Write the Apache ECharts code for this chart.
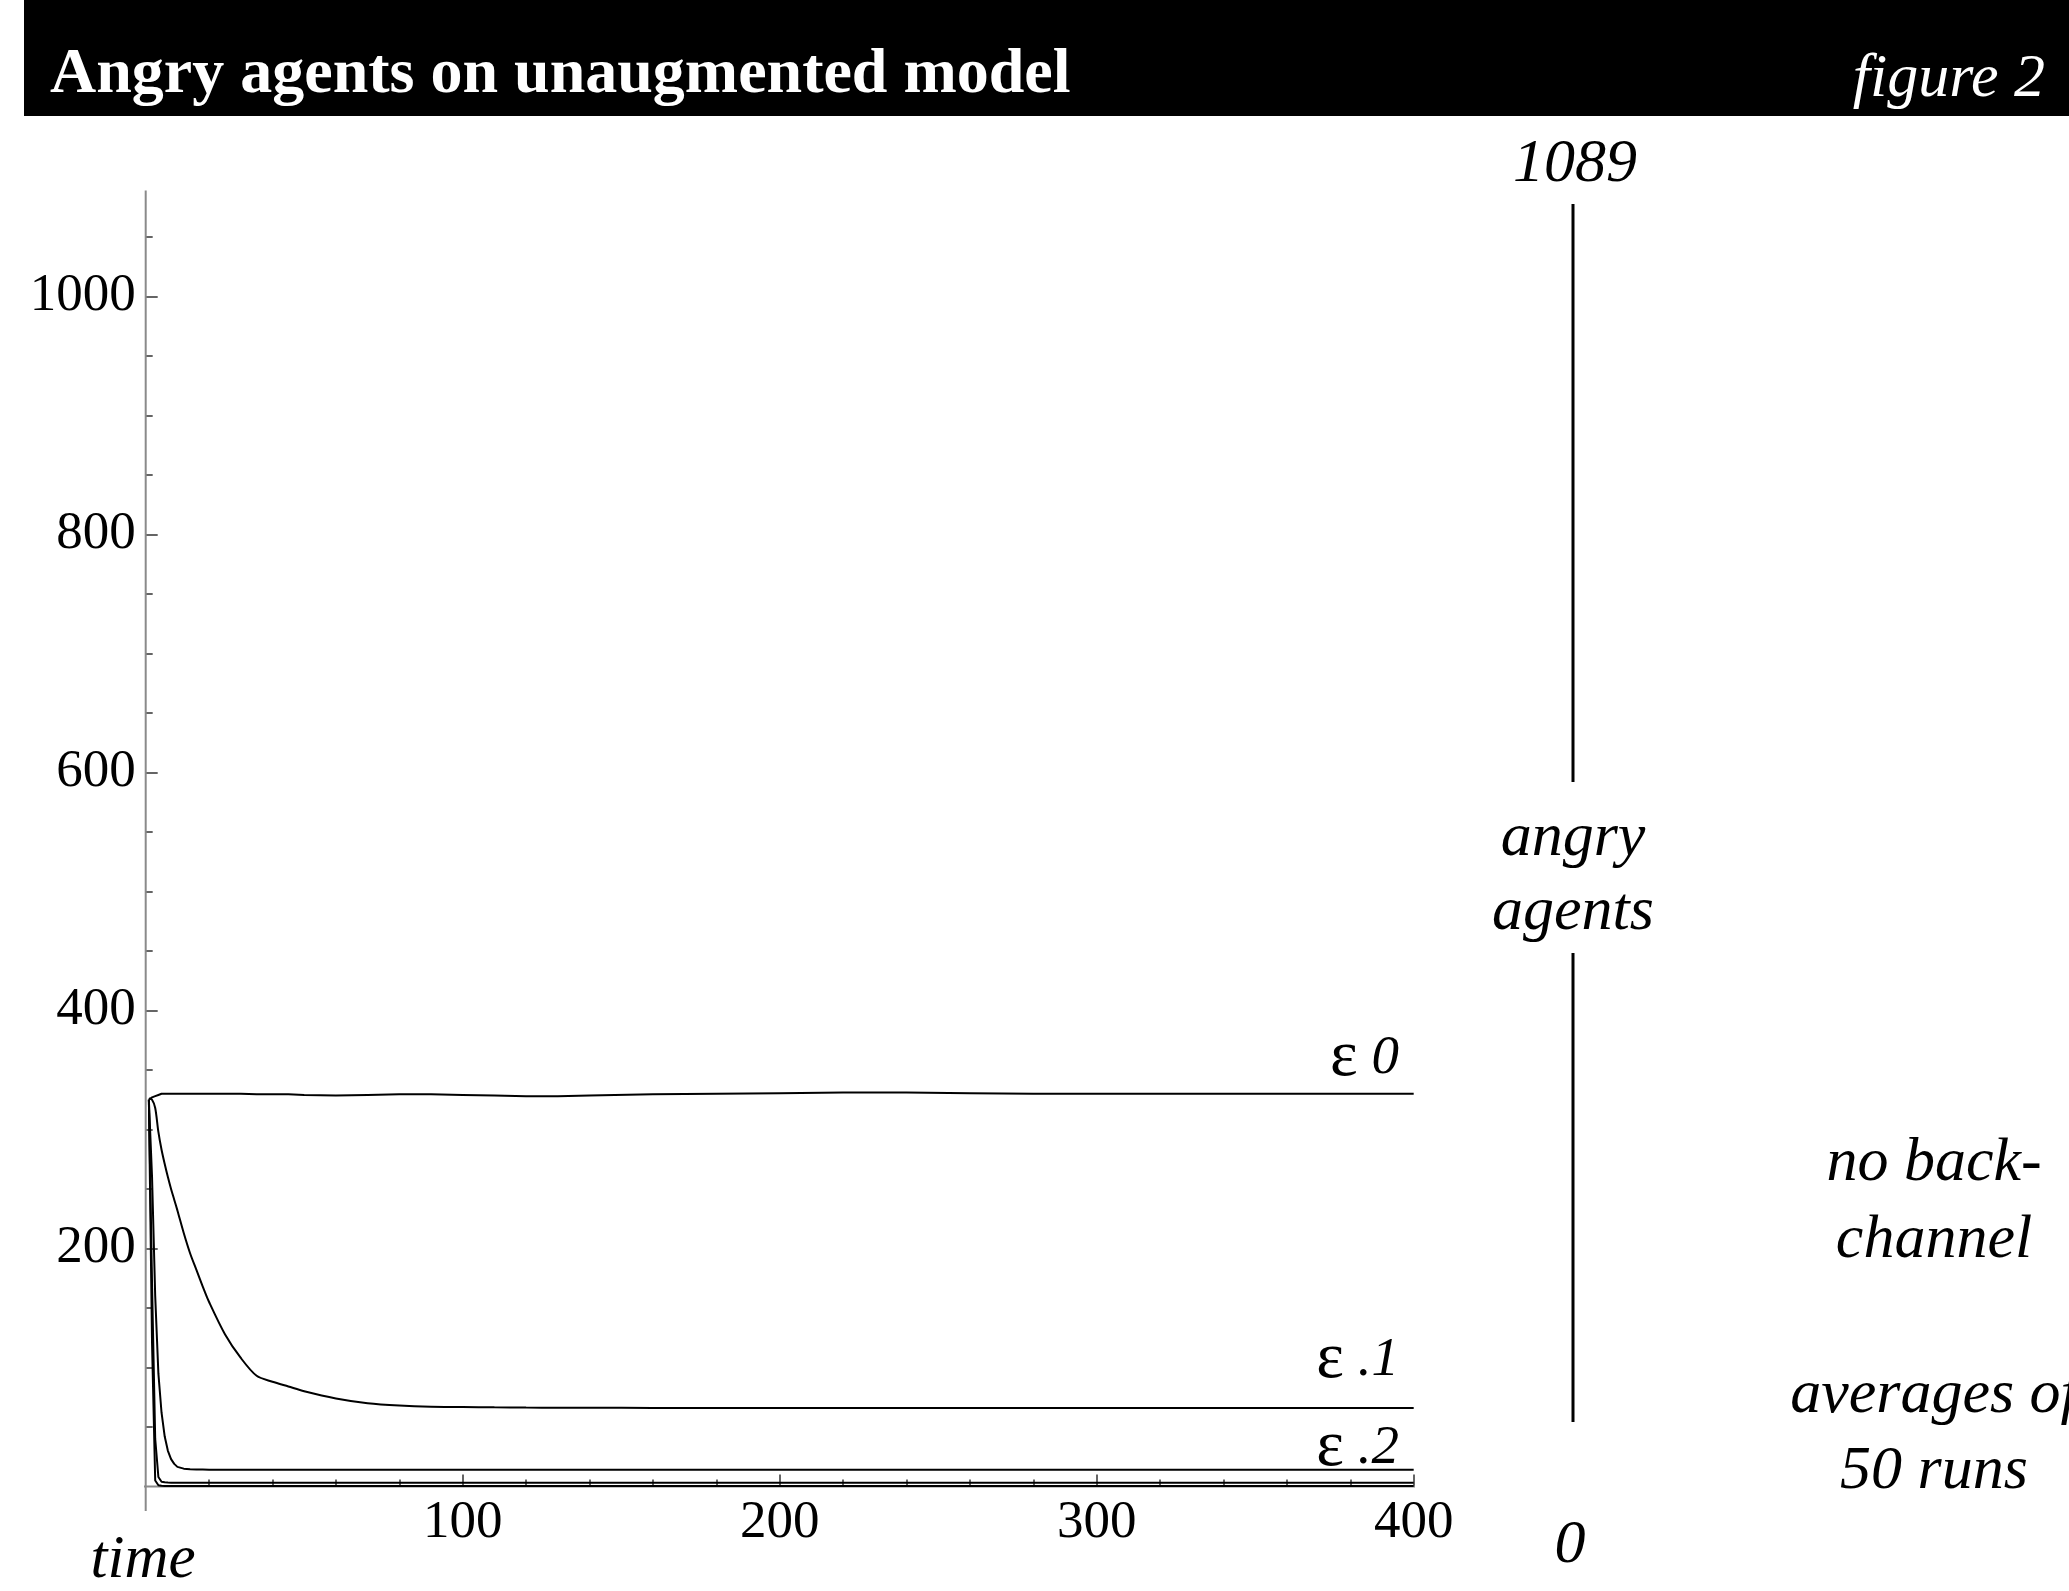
<!DOCTYPE html>
<html><head><meta charset="utf-8">
<script src="https://cdn.jsdelivr.net/npm/echarts@6/dist/echarts.min.js"></script>
<style>html,body{margin:0;padding:0;background:#fff}#c{width:2069px;height:1591px}</style>
</head><body><div id="c"></div>
<script>
// ---- data ----
const time = [1,2,3,4,5,6,7,8,9,10,12,14,16,18,20,25,30,35,40,45,50,60,70,80,90,100,110,120,130,140,160,180,200,220,240,260,280,300,320,340,360,380,400];
const eps0 = [325,327,328,329,330,330,330,330,330,330,330,330,330,330,330,330,330,329.5,329.5,329.5,329,328.5,329,329.5,329.5,329,328.5,328,328,328.5,329.5,330,330.5,331,331,330.5,330,330,330,330,330,330,330];
const eps1 = [326,325,318,298,283,271,260,250,241,232,213,196,182,168,155,128,108,93,88,84,80,74,70,68,67,66.8,66.5,66.3,66.2,66.2,66,66,66,66,66,66,66,66,66,66,66,66,66];
const eps2 = [325,260,160,95,62,42,30,23,19,16.5,15,14.5,14.3,14.2,14.1,14,14,14,14,14,14,14,14,14,14,14,14,14,14,14,14,14,14,14,14,14,14,14,14,14,14,14,14];
const eps3 = [325,170,40,8,4,3.5,3.3,3.2,3.2,3.2,3.2,3.2,3.2,3.2,3.2,3.2,3.2,3.2,3.2,3.2,3.2,3.2,3.2,3.2,3.2,3.2,3.2,3.2,3.2,3.2,3.2,3.2,3.2,3.2,3.2,3.2,3.2,3.2,3.2,3.2,3.2,3.2,3.2];
const eps4 = [325,120,5,1,0.6,0.5,0.5,0.5,0.5,0.5,0.5,0.5,0.5,0.5,0.5,0.5,0.5,0.5,0.5,0.5,0.5,0.5,0.5,0.5,0.5,0.5,0.5,0.5,0.5,0.5,0.5,0.5,0.5,0.5,0.5,0.5,0.5,0.5,0.5,0.5,0.5,0.5,0.5];
const yTickLabels = [200,400,600,800,1000];
const yMinorTicks = [50,100,150,250,300,350,450,500,550,650,700,750,850,900,950,1050];
const xTickLabels = [100,200,300,400];
const xMinorTicks = [20,40,60,80,120,140,160,180,220,240,260,280,320,340,360,380];
const yMax = 1089;
const seriesNames = ['ε 0','ε .1','ε .2','ε .3','ε .4'];

const FONT = '"Liberation Serif", "DejaVu Serif", serif';
const pair = arr => time.map((t,i)=>[t, arr[i]]);
const dataSeries = [eps0,eps1,eps2,eps3,eps4].map((arr,i)=>({
  name: seriesNames[i], type:'line', data: pair(arr), showSymbol:false, symbol:'none',
  smooth: i===1 ? 0.3 : false,
  lineStyle:{color:'#000', width:2}, z:5, silent:true, animation:false
}));
const axisColor = '#8a8a8a';
const axisSeries = [
  {type:'line', data:[[-8,0],[407.6,0]], showSymbol:false, symbol:'none', clip:false, silent:true,
   lineStyle:{color:axisColor,width:2}, z:2, animation:false},
  {type:'line', data:[[0,-20.6],[0,yMax]], showSymbol:false, symbol:'none', clip:false, silent:true,
   lineStyle:{color:axisColor,width:2}, z:2, animation:false}
];

const chart = echarts.init(document.getElementById('c'), null, {renderer:'canvas'});
const tickStyle = {color:'#333', width:1.5};
const BL = 0.27;
function txt(text, x, baseline, size, align, extra) {
  return {type:'text', x:x, y:baseline - BL*size, z:10,
    style:Object.assign({text:text, align:align||'center', verticalAlign:'middle',
      font:'italic '+size+'px '+FONT, fill:'#000'}, extra||{})};
}
function epsLabel(num, baseline) {
  return {type:'text', x:1399, y:baseline - BL*55, z:10,
    style:{text:'{e|ε}{s|\u00a0}{n|'+num+'}', align:'right', verticalAlign:'middle',
      rich:{e:{fontFamily:FONT, fontSize:66, fill:'#000'},
            s:{fontFamily:FONT, fontSize:55, fill:'#000'},
            n:{fontFamily:FONT, fontStyle:'italic', fontSize:55, fill:'#000'}}}};
}
const plain = v => String(v);

chart.setOption({
  backgroundColor:'#fff',
  animation:false,
  grid:{left:145.7, top:190.5, width:1268, height:1296, containLabel:false, outerBoundsMode:'none'},
  xAxis:[
    {type:'value', min:0, max:400, position:'bottom',
     axisLine:{show:false}, splitLine:{show:false},
     axisTick:{show:true, inside:true, length:12, customValues:xTickLabels, lineStyle:tickStyle},
     axisLabel:{customValues:xTickLabels, formatter:plain, fontFamily:FONT, fontSize:53, color:'#000', margin:10}},
    {type:'value', min:0, max:400, position:'bottom', offset:0,
     axisLine:{show:false}, splitLine:{show:false},
     axisTick:{show:true, inside:true, length:7, customValues:xMinorTicks, lineStyle:tickStyle},
     axisLabel:{show:false}}
  ],
  yAxis:[
    {type:'value', min:0, max:yMax, position:'left',
     axisLine:{show:false}, splitLine:{show:false},
     axisTick:{show:true, inside:true, length:12, customValues:yTickLabels, lineStyle:tickStyle},
     axisLabel:{customValues:yTickLabels, formatter:plain, fontFamily:FONT, fontSize:53, color:'#000', margin:10}},
    {type:'value', min:0, max:yMax, position:'left', offset:0,
     axisLine:{show:false}, splitLine:{show:false},
     axisTick:{show:true, inside:true, length:7, customValues:yMinorTicks, lineStyle:tickStyle},
     axisLabel:{show:false}}
  ],
  series: axisSeries.concat(dataSeries),
  graphic:[
    {type:'rect', shape:{x:24,y:0,width:2045,height:116}, style:{fill:'#000'}, z:1},
    {type:'text', x:50, y:93-BL*64, z:10, style:{text:'Angry agents on unaugmented model', align:'left', verticalAlign:'middle', font:'bold 64px '+FONT, fill:'#fff'}},
    {type:'text', x:2045, y:96-BL*62, z:10, style:{text:'figure 2', align:'right', verticalAlign:'middle', font:'italic 62px '+FONT, fill:'#fff'}},
    txt('1089', 1575, 181, 62),
    {type:'line', shape:{x1:1573,y1:204,x2:1573,y2:782}, style:{stroke:'#000', lineWidth:3}, z:10},
    txt('angry', 1573, 855, 62),
    txt('agents', 1573, 929, 62),
    {type:'line', shape:{x1:1573,y1:953,x2:1573,y2:1422}, style:{stroke:'#000', lineWidth:3}, z:10},
    txt('0', 1570, 1562, 62),
    txt('no back-', 1934, 1180, 62),
    txt('channel', 1934, 1257, 62),
    txt('averages of', 1934, 1412, 62),
    txt('50 runs', 1934, 1488, 62),
    txt('time', 143, 1577, 61),
    epsLabel('0', 1073),
    epsLabel('.1', 1375),
    epsLabel('.2', 1463)
  ]
});
</script>
</body></html>
